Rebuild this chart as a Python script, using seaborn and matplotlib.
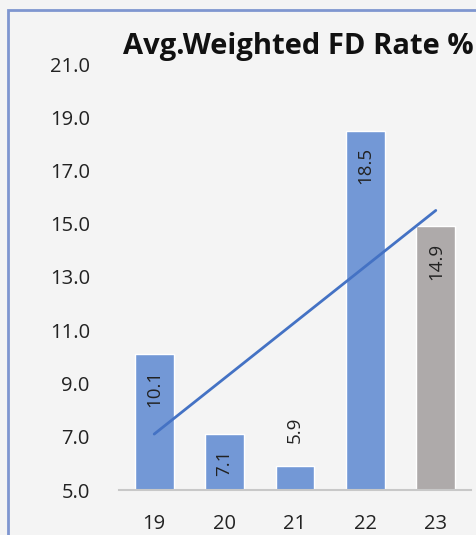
import numpy as np
import pandas as pd
import matplotlib
matplotlib.use("Agg")
import matplotlib.pyplot as plt
from matplotlib.patches import Rectangle
import seaborn as sns

# Average weighted fixed-deposit rate by year
years = ["19", "20", "21", "22", "23"]
rates = [10.1, 7.1, 5.9, 18.5, 14.9]
bar_colors = ["#7398d6", "#7398d6", "#7398d6", "#7398d6", "#aeaaaa"]
y_ticks = [5.0, 7.0, 9.0, 11.0, 13.0, 15.0, 17.0, 19.0, 21.0]

df = pd.DataFrame({"year": years, "rate": rates})

sns.set_theme(style="white")
plt.rcParams["font.family"] = ["Open Sans", "DejaVu Sans"]

bg = "#f4f4f4"
fig = plt.figure(figsize=(4.77, 5.35), dpi=100, facecolor=bg)
ax = fig.add_axes([119 / 477, 45 / 535, 352 / 477, 426 / 535])
ax.set_facecolor(bg)

sns.barplot(data=df, x="year", y="rate", hue="year", palette=bar_colors,
            legend=False, width=0.55, saturation=1, ax=ax, zorder=2)

# Linear trend across the years
xs = np.arange(len(rates))
slope, intercept = np.polyfit(xs, rates, 1)
sns.lineplot(x=xs, y=slope * xs + intercept, color="#4472c4", linewidth=2,
             ax=ax, zorder=3)

# Value labels, rotated, just inside the top of each bar (outside if too short)
label_style = dict(rotation=90, ha="center", fontsize=13.5, color="#222222",
                   textcoords="offset points", zorder=4)
for i, v in enumerate(rates):
    if v - 5 > 2:
        ax.annotate(f"{v:.1f}", (i, v), xytext=(0, -11.5), va="top", **label_style)
    elif v - 5 > 1.5:
        ax.annotate(f"{v:.1f}", (i, v), xytext=(0, -4), va="top", **label_style)
    else:
        ax.annotate(f"{v:.1f}", (i, v), xytext=(0, 16.5), va="bottom", **label_style)

ax.set_ylim(5, 21)
ax.set_xlim(-0.5, 4.5)
ax.set_yticks(y_ticks)
ax.set_yticklabels([f"{t:.1f}" for t in y_ticks])
ax.tick_params(axis="y", length=0, pad=21, labelsize=14.5, labelcolor="#222222")
ax.tick_params(axis="x", length=0, pad=17, labelsize=14.5, labelcolor="#222222")
ax.set_xlabel("")
ax.set_ylabel("")
for side in ["top", "right", "left"]:
    ax.spines[side].set_visible(False)
ax.spines["bottom"].set_color("#c8c8c8")
ax.spines["bottom"].set_linewidth(1.5)

fig.text(123 / 477, 1 - 47 / 535, "Avg.Weighted FD Rate %", ha="left", va="center",
         fontsize=21, fontweight="bold", color="#111111")

# Blue frame around the chart area
fig.patches.append(Rectangle((8 / 477, -0.05), 1.0, 1 - 10 / 535 + 0.05,
                             transform=fig.transFigure, fill=False,
                             edgecolor="#7f96d0", linewidth=2))

fig.savefig("out.png", dpi=100, facecolor=bg)
